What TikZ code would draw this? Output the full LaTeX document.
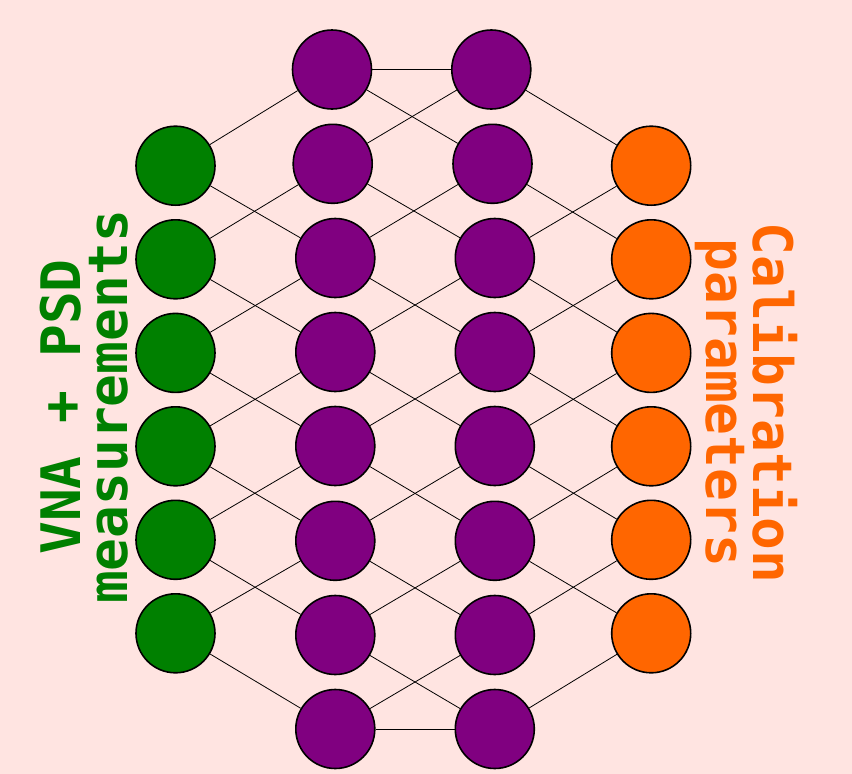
\documentclass[tikz,border=0pt]{standalone}
\usepackage{fontspec}
\newfontfamily\labelfont{DejaVu Sans Mono}
\definecolor{bgpink}{HTML}{FFE4E1}
\definecolor{ingreen}{HTML}{008000}
\definecolor{hidpurple}{HTML}{800080}
\definecolor{outorange}{HTML}{FF6600}
\begin{document}
\begin{tikzpicture}[x=1pt,y=-1pt,
  neuron/.style={circle, draw=black, line width=1.6pt, minimum size=79pt, inner sep=0pt},
  inneuron/.style={neuron, fill=ingreen},
  hidneuron/.style={neuron, fill=hidpurple},
  outneuron/.style={neuron, fill=outorange},
  link/.style={draw=black, line width=0.8pt},
  lbl/.style={font=\labelfont\bfseries\fontsize{54.5}{47}\selectfont, align=center, inner sep=0pt}]
\fill[bgpink] (0,0) rectangle (852,774);
\useasboundingbox (0,0) rectangle (852,774);
% input layer
\foreach \y [count=\i] in {165.7,259.3,352.9,446.3,539.8,633.3}
  \node[inneuron] (g\i) at (175.5,\y) {};
% hidden layer 1
\foreach \x/\y [count=\i] in {332/69.5,332.7/163.8,335.3/258,335.3/352,335.3/446,335.3/540.8,335.3/635,335.3/729}
  \node[hidneuron] (a\i) at (\x,\y) {};
% hidden layer 2
\foreach \x/\y [count=\i] in {491.3/69.5,492.5/163.8,494.8/258,494.8/352,494.8/446,494.8/540.8,494.8/635,494.8/729}
  \node[hidneuron] (b\i) at (\x,\y) {};
% output layer
\foreach \y [count=\i] in {165.7,259.3,352.9,446.3,539.8,633.3}
  \node[outneuron] (o\i) at (651.2,\y) {};
% connections
\foreach \i in {1,...,6}{
  \pgfmathtruncatemacro{\j}{\i+2}
  \draw[link] (g\i) -- (a\i);
  \draw[link] (g\i) -- (a\j);
  \draw[link] (b\i) -- (o\i);
  \draw[link] (b\j) -- (o\i);
}
\draw[link] (a1) -- (b1);
\draw[link] (a8) -- (b8);
\foreach \i in {1,...,7}{
  \pgfmathtruncatemacro{\j}{\i+1}
  \draw[link] (a\i) -- (b\j);
  \draw[link] (a\j) -- (b\i);
}
% labels
\node[lbl, rotate=90, text=ingreen] (inlabel) at (84,407) {VNA + PSD\\measurements};
\node[lbl, rotate=-90, text=outorange] (outlabel) at (746,403) {Calibration\\parameters};
\end{tikzpicture}
\end{document}
